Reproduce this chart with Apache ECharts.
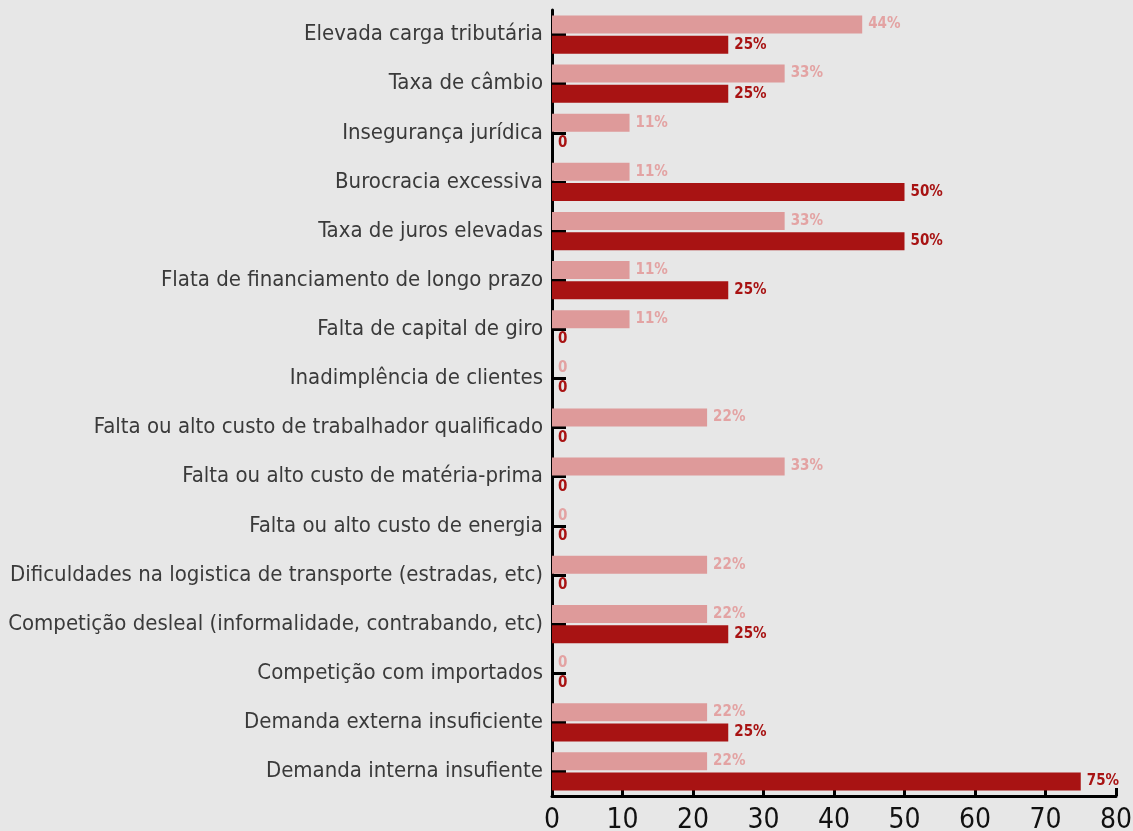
<!DOCTYPE html>
<html>
<head>
<meta charset="utf-8">
<script src="https://cdn.jsdelivr.net/npm/echarts@6/dist/echarts.min.js"></script>
<style>
  html, body { margin: 0; padding: 0; background: #e7e7e7; }
  #chart { width: 1133px; height: 831px; }
</style>
</head>
<body>
<div id="chart"></div>
<script>
const categories = [
  'Elevada carga tributária',
  'Taxa de câmbio',
  'Insegurança jurídica',
  'Burocracia excessiva',
  'Taxa de juros elevadas',
  'Flata de financiamento de longo prazo',
  'Falta de capital de giro',
  'Inadimplência de clientes',
  'Falta ou alto custo de trabalhador qualificado',
  'Falta ou alto custo de matéria-prima',
  'Falta ou alto custo de energia',
  'Dificuldades na logistica de transporte (estradas, etc)',
  'Competição desleal (informalidade, contrabando, etc)',
  'Competição com importados',
  'Demanda externa insuficiente',
  'Demanda interna insufiente'
];
const lightValues = [44, 33, 11, 11, 33, 11, 11, 0, 22, 33, 0, 22, 22, 0, 22, 22];
const darkValues = [25, 25, 0, 50, 50, 25, 0, 0, 0, 0, 0, 0, 25, 0, 25, 75];
const xTicks = [0, 80, 10];

const font = '"Liberation Sans Narrow", "DejaVu Sans Condensed", sans-serif';
const pink = '#de9a9a';
const red = '#a81313';

const pctLabel = (color) => ({
  show: true,
  position: 'right',
  distance: 6,
  color: color,
  fontFamily: font,
  fontWeight: 'bold',
  fontSize: 15,
  formatter: (p) => p.value === 0 ? '0' : p.value + '%'
});

const chart = echarts.init(document.getElementById('chart'));
chart.setOption({
  backgroundColor: '#e7e7e7',
  animation: false,
  grid: {
    left: 552, right: 17, top: 10, bottom: 35,
    containLabel: false, outerBoundsMode: 'none'
  },
  xAxis: {
    type: 'value',
    min: xTicks[0],
    max: xTicks[1],
    interval: xTicks[2],
    splitLine: { show: false },
    axisLine: { show: true, lineStyle: { color: '#000', width: 3 } },
    axisTick: { show: true, inside: true, length: 8, lineStyle: { color: '#000', width: 3 } },
    axisLabel: { color: '#111', fontFamily: font, fontSize: 28, margin: 11 }
  },
  yAxis: {
    type: 'category',
    data: categories,
    inverse: true,
    axisLine: { show: true, lineStyle: { color: '#000', width: 3 } },
    axisTick: { show: true, inside: true, alignWithLabel: true, length: 14, lineStyle: { color: '#000', width: 3 } },
    axisLabel: { color: '#3a3a3a', fontFamily: font, fontSize: 22, margin: 9 }
  },
  series: [
    {
      type: 'bar',
      data: lightValues,
      barWidth: 18,
      barGap: '12%',
      itemStyle: { color: pink },
      label: pctLabel('#e3a3a3')
    },
    {
      type: 'bar',
      data: darkValues,
      barWidth: 18,
      itemStyle: { color: red },
      label: pctLabel(red)
    }
  ]
});
</script>
</body>
</html>
